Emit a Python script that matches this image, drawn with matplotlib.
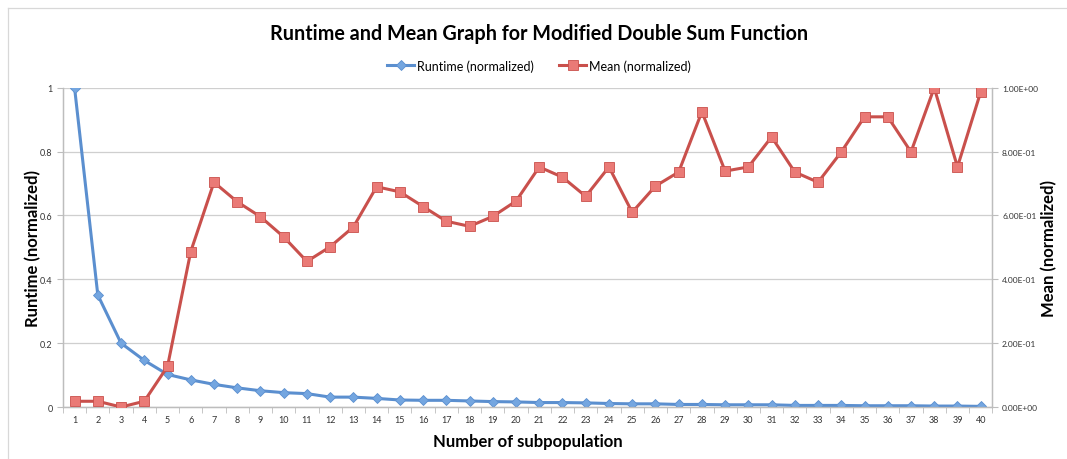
import numpy as np
import matplotlib
matplotlib.use('Agg')
import matplotlib.pyplot as plt
from matplotlib.lines import Line2D
from matplotlib.ticker import FixedLocator, FuncFormatter

# data
subpops = list(range(1, 41))
runtime = [1.0, 0.351, 0.200, 0.146, 0.102, 0.085, 0.071, 0.060, 0.051, 0.045,
           0.042, 0.031, 0.031, 0.027, 0.022, 0.021, 0.021, 0.019, 0.017, 0.016,
           0.014, 0.014, 0.013, 0.011, 0.010, 0.010, 0.008, 0.008, 0.007, 0.007,
           0.007, 0.005, 0.005, 0.005, 0.004, 0.004, 0.004, 0.003, 0.003, 0.002]
mean = [0.018, 0.018, 0.0, 0.018, 0.127, 0.487, 0.704, 0.643, 0.596, 0.533,
        0.456, 0.502, 0.564, 0.690, 0.674, 0.628, 0.582, 0.566, 0.597, 0.645,
        0.752, 0.720, 0.660, 0.752, 0.610, 0.692, 0.736, 0.925, 0.739, 0.752,
        0.846, 0.736, 0.704, 0.799, 0.909, 0.909, 0.799, 1.000, 0.752, 0.987]
left_ticks = [0, 0.2, 0.4, 0.6, 0.8, 1]
right_ticks = [0, 0.2, 0.4, 0.6, 0.8, 1.0]

blue = '#5B8FCF'
blue_face = '#74A6E0'
red = '#C9504C'
red_face = '#EA7A76'
grid_c = '#CFCFCF'
spine_c = '#BDBDBD'

plt.rcParams['font.family'] = ['Lato', 'DejaVu Sans']

fig = plt.figure(figsize=(10.67, 4.6), dpi=100)
ax = fig.add_axes([0.059, 0.113, 0.871, 0.694])
ax2 = ax.twinx()

ax.plot(subpops, runtime, color=blue, lw=2.2, marker='D', markersize=5.5,
        markerfacecolor=blue_face, markeredgecolor=blue, markeredgewidth=0.6,
        label='Runtime (normalized)', zorder=3)
ax2.plot(subpops, mean, color=red, lw=2.2, marker='s', markersize=7,
         markerfacecolor=red_face, markeredgecolor=red, markeredgewidth=0.6,
         label='Mean (normalized)', zorder=3)

ax.set_xlim(0.5, 40.5)
ax.set_ylim(0, 1)
ax2.set_ylim(0, 1)

ax.set_xticks(subpops)
ax.set_xticklabels([str(s) for s in subpops])
ax.xaxis.set_minor_locator(FixedLocator(np.arange(0.5, 41, 1)))
ax.tick_params(axis='x', which='major', length=0, labelsize=6.5, pad=6, labelcolor='#333333')
ax.tick_params(axis='x', which='minor', length=4, color=spine_c, direction='out')

ax.set_yticks(left_ticks)
ax.set_yticklabels(['0', '0.2', '0.4', '0.6', '0.8', '1'])
ax.tick_params(axis='y', length=4, color=spine_c, labelsize=6.5, labelcolor='#333333')

ax2.set_yticks(right_ticks)
ax2.yaxis.set_major_formatter(FuncFormatter(lambda v, p: '%.2E' % v))
ax2.tick_params(axis='y', length=4, color=spine_c, labelsize=6, labelcolor='#333333', pad=3)

ax.grid(axis='y', color=grid_c, lw=0.9)
ax.set_axisbelow(True)

for a in (ax, ax2):
    a.spines['top'].set_visible(False)
    for s in ('left', 'right', 'bottom'):
        a.spines[s].set_color(spine_c)
        a.spines[s].set_linewidth(0.9)

ax.set_ylabel('Runtime (normalized)', fontsize=12, fontweight='bold', labelpad=-1)
ax2.set_ylabel('Mean (normalized)', fontsize=12, fontweight='bold', labelpad=2)
ax.set_xlabel('Number of subpopulation', fontsize=12, fontweight='bold', labelpad=6)

fig.text(0.505, 0.926, 'Runtime and Mean Graph for Modified Double Sum Function',
         ha='center', va='center', fontsize=14.2, fontweight='bold')

handles = [ax.get_lines()[0], ax2.get_lines()[0]]
fig.legend(handles, [h.get_label() for h in handles], loc='center',
           bbox_to_anchor=(0.505, 0.856), ncol=2, frameon=False, fontsize=9,
           handlelength=2.2, handletextpad=0.2, columnspacing=2.0)

# outer chart border (top and left edges visible in the reference)
fig.add_artist(Line2D([0.0075, 1.0], [0.980, 0.980], color='#D8D8D8', lw=0.9,
                      transform=fig.transFigure))
fig.add_artist(Line2D([0.0075, 0.0075], [0.0, 0.980], color='#D8D8D8', lw=0.9,
                      transform=fig.transFigure))

fig.savefig('out.png', dpi=100)
